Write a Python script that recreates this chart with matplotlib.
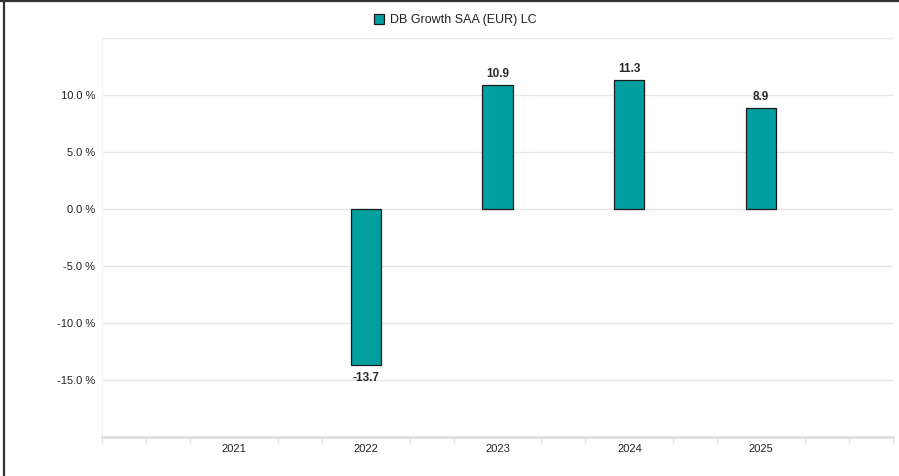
import matplotlib.pyplot as plt
from matplotlib.lines import Line2D
from matplotlib.patches import Patch
import numpy as np

years = ["2021", "2022", "2023", "2024", "2025"]
returns = [np.nan, -13.7, 10.9, 11.3, 8.9]
series_name = "DB Growth SAA (EUR) LC"

plt.rcParams["font.family"] = ["Liberation Sans", "DejaVu Sans"]

bar_color = "#009e9e"
grid_color = "#e6e6e6"
text_color = "#222222"

fig = plt.figure(figsize=(8.99, 4.76), dpi=100)
ax = fig.add_axes([102 / 899, 1 - 437 / 476, 791 / 899, 399 / 476])

x = np.arange(len(years))
vals = np.array(returns, dtype=float)
bars = ax.bar(x, np.nan_to_num(vals), width=0.23, color=bar_color,
              edgecolor="#1a1a1a", linewidth=0.9, zorder=3)
for b, v in zip(bars, vals):
    if np.isnan(v):
        b.set_visible(False)
        continue
    cx = b.get_x() + b.get_width() / 2
    if v >= 0:
        ax.annotate(f"{v:.1f}", (cx, v), xytext=(0, 3.5), textcoords="offset points",
                    ha="center", va="bottom", fontsize=8.5, fontweight="bold",
                    color="#2a2a2a")
    else:
        ax.annotate(f"{v:.1f}", (cx, v), xytext=(0, -5), textcoords="offset points",
                    ha="center", va="top", fontsize=8.5, fontweight="bold",
                    color="#2a2a2a")

ax.set_xlim(-1, 5)
ax.set_ylim(-20, 15)

yt = [-20, -15, -10, -5, 0, 5, 10, 15]
ax.set_yticks(yt)
ax.set_yticklabels(["" if t in (-20, 15) else f"{t:.1f} %" for t in yt])
ax.tick_params(axis="y", length=0, pad=5, labelsize=8, labelcolor=text_color)
ax.yaxis.grid(True, color=grid_color, linewidth=1, zorder=0)

ax.set_xticks(x)
ax.set_xticklabels(years)
ax.tick_params(axis="x", length=0, pad=5, labelsize=8, labelcolor=text_color)
minor = [m / 3 - 1 for m in range(0, 19) if m % 3 != 0 or m in (0, 18)]
ax.set_xticks(minor, minor=True)
ax.tick_params(axis="x", which="minor", length=5, width=1, color="#e6e6e6")

for s in ["top", "right"]:
    ax.spines[s].set_visible(False)
ax.spines["left"].set_color("#f2f2f2")
ax.spines["bottom"].set_color("#e0e0e0")
ax.spines["bottom"].set_linewidth(2)

handle = Patch(facecolor=bar_color, edgecolor="#1a1a1a", linewidth=0.9)
fig.legend(handles=[handle], labels=[series_name], loc="center",
           bbox_to_anchor=(455 / 899, 1 - 20 / 476), frameon=False,
           fontsize=9, handlelength=0.8, handleheight=0.8, handletextpad=0.5,
           labelcolor=text_color)

# frame edges of the original screenshot
fig.add_artist(Line2D([4 / 899, 4 / 899], [0, 1], color="#333333", linewidth=1.6))
fig.add_artist(Line2D([0, 1], [1 - 1 / 476, 1 - 1 / 476], color="#333333", linewidth=1.6))

fig.savefig("out.png", dpi=100)
